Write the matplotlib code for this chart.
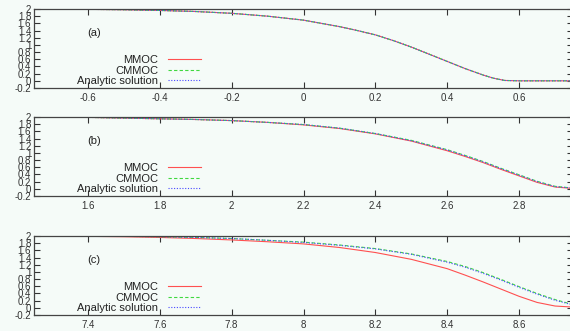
import matplotlib
matplotlib.use("Agg")
import matplotlib.pyplot as plt

plt.rcParams['font.family'] = ['Liberation Sans', 'DejaVu Sans']

# ---------------- data ----------------
# Panel (a)
xa = [-0.75, -0.7, -0.6, -0.5, -0.4, -0.3, -0.2, -0.1, 0.0, 0.05, 0.1, 0.15, 0.2, 0.25,
      0.3, 0.35, 0.4, 0.45, 0.5, 0.53, 0.56, 0.6, 0.65, 0.7, 0.75]
ya_mmoc = [2.0, 2.0, 1.99, 1.98, 1.96, 1.93, 1.88, 1.80, 1.69, 1.60, 1.51, 1.40, 1.28, 1.12,
           0.94, 0.74, 0.54, 0.34, 0.16, 0.07, 0.01, 0.0, 0.0, 0.0, 0.0]
ya_cmmoc = [2.0, 2.0, 1.99, 1.98, 1.96, 1.93, 1.88, 1.80, 1.69, 1.60, 1.51, 1.40, 1.28, 1.12,
            0.94, 0.74, 0.54, 0.34, 0.16, 0.07, 0.01, 0.0, 0.0, 0.0, 0.0]
ya_exact = [2.0, 2.0, 1.99, 1.98, 1.96, 1.93, 1.88, 1.80, 1.69, 1.60, 1.51, 1.40, 1.28, 1.12,
            0.94, 0.74, 0.54, 0.34, 0.16, 0.07, 0.01, 0.0, 0.0, 0.0, 0.0]

# Panel (b)
xb = [1.45, 1.5, 1.6, 1.7, 1.8, 1.9, 2.0, 2.1, 2.2, 2.3, 2.4, 2.5, 2.6, 2.65, 2.7, 2.75,
      2.8, 2.85, 2.9, 2.95]
yb_mmoc = [2.0, 2.0, 1.99, 1.97, 1.95, 1.93, 1.90, 1.85, 1.78, 1.68, 1.53, 1.33, 1.06, 0.90,
           0.73, 0.54, 0.36, 0.18, 0.05, 0.01]
yb_cmmoc = [2.0, 2.0, 1.99, 1.97, 1.95, 1.93, 1.90, 1.85, 1.79, 1.69, 1.54, 1.35, 1.09, 0.93,
            0.76, 0.57, 0.39, 0.21, 0.07, 0.02]
yb_exact = [2.0, 2.0, 1.99, 1.97, 1.95, 1.93, 1.90, 1.85, 1.79, 1.69, 1.54, 1.34, 1.08, 0.92,
            0.75, 0.56, 0.38, 0.20, 0.06, 0.02]

# Panel (c)
xc = [7.25, 7.4, 7.5, 7.6, 7.7, 7.8, 7.9, 8.0, 8.1, 8.2, 8.3, 8.4, 8.45, 8.5, 8.55, 8.6,
      8.65, 8.7, 8.75]
yc_mmoc = [2.0, 1.99, 1.98, 1.96, 1.93, 1.89, 1.84, 1.78, 1.68, 1.54, 1.35, 1.09, 0.91, 0.72,
           0.52, 0.32, 0.15, 0.05, 0.02]
yc_cmmoc = [2.0, 2.0, 1.99, 1.98, 1.96, 1.93, 1.88, 1.83, 1.75, 1.65, 1.50, 1.29, 1.15, 0.98,
            0.79, 0.59, 0.40, 0.23, 0.09]
yc_exact = [2.0, 2.0, 1.99, 1.98, 1.96, 1.93, 1.88, 1.82, 1.74, 1.64, 1.49, 1.27, 1.13, 0.96,
            0.77, 0.57, 0.38, 0.21, 0.08]

panel_labels = ["(a)", "(b)", "(c)"]
series_names = ["MMOC", "CMMOC", "Analytic solution"]
xlims = [(-0.75, 0.75), (1.45, 2.95), (7.25, 8.75)]
xticks = [[-0.6, -0.4, -0.2, 0, 0.2, 0.4, 0.6],
          [1.6, 1.8, 2, 2.2, 2.4, 2.6, 2.8],
          [7.4, 7.6, 7.8, 8, 8.2, 8.4, 8.6]]
yticks = [2, 1.8, 1.6, 1.4, 1.2, 1, 0.8, 0.6, 0.4, 0.2, 0, -0.2]

panels = [
    (xa, ya_mmoc, ya_cmmoc, ya_exact),
    (xb, yb_mmoc, yb_cmmoc, yb_exact),
    (xc, yc_mmoc, yc_cmmoc, yc_exact),
]

# ---------------- figure ----------------
W, H = 570, 331
bg = '#f5fbf8'
fig = plt.figure(figsize=(W / 100, H / 100), dpi=100, facecolor=bg)

tops = [9, 117, 236]
height = 79
left, right = 34, 573

for i, (x, y1, y2, y3) in enumerate(panels):
    top = tops[i]
    ax = fig.add_axes([left / W, 1 - (top + height) / H, (right - left) / W, height / H])
    ax.set_facecolor(bg)
    ax.plot(x, y1, color='#ff5050', lw=0.8, ls='-', label=series_names[0])
    ax.plot(x, y2, color='#40d840', lw=0.8, ls=(0, (3, 2)), label=series_names[1])
    ax.plot(x, y3, color='#4848ff', lw=0.8, ls=(0, (1, 1.5)), label=series_names[2])
    ax.set_xlim(*xlims[i])
    ax.set_ylim(-0.2, 2)
    ax.set_xticks(xticks[i])
    ax.set_xticklabels([f"{v:g}" for v in xticks[i]])
    ax.set_yticks(yticks)
    ax.set_yticklabels([f"{v:g}" for v in yticks])
    ax.tick_params(direction='in', length=4, width=0.8, labelsize=7, colors='#333333',
                   top=True, right=True, pad=2)
    ax.tick_params(axis='x', pad=3.5)
    for s in ax.spines.values():
        s.set_color('#444444')
        s.set_linewidth(0.9)
    ax.text(0.111, 0.70, panel_labels[i], transform=ax.transAxes, fontsize=8,
            ha='center', va='center', color='#222222')
    leg = ax.legend(loc='lower right', bbox_to_anchor=(0.325, -0.07), frameon=False,
                    fontsize=8, markerfirst=False, handlelength=3.0, handletextpad=0.9,
                    labelspacing=0.02, borderpad=0.2)
    for t in leg.get_texts():
        t.set_color('#222222')

fig.savefig('out.png', dpi=100, facecolor=bg)
